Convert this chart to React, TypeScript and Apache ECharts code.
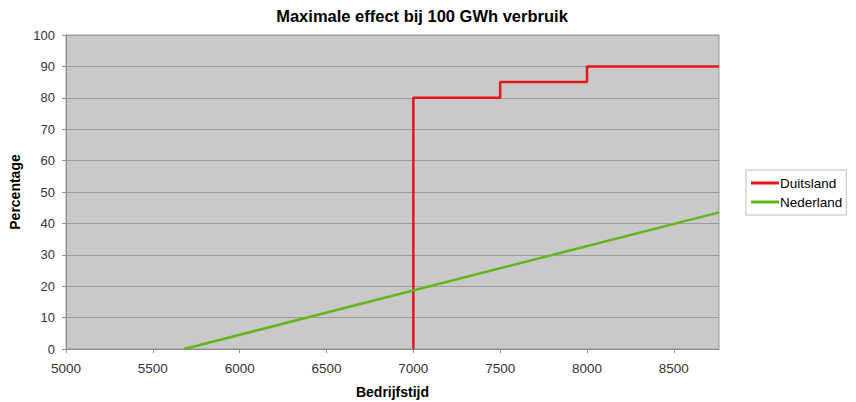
import React, { useEffect, useRef } from "react";
import * as echarts from "echarts";

const titleText = "Maximale effect bij 100 GWh verbruik";
const xAxisName = "Bedrijfstijd";
const yAxisName = "Percentage";
const seriesNames = ["Duitsland", "Nederland"];
const duitslandX = [7000, 7000, 7500, 7500, 8000, 8000, 8760];
const duitslandY = [0, 80, 80, 85, 85, 90, 90];
const nederlandX = [5680, 8760];
const nederlandY = [0, 43.5];

const FONT = "'Liberation Sans', Arial, sans-serif";

export default function App() {
  const ref = useRef<HTMLDivElement>(null);
  useEffect(() => {
    document.body.style.margin = "0";
    if (!ref.current) return;
    const chart = echarts.init(ref.current, undefined, { renderer: "svg" });
    chart.setOption({
      animation: false,
      backgroundColor: "#ffffff",
      textStyle: { fontFamily: FONT },
      title: {
        text: titleText,
        left: 417,
        textAlign: "center",
        top: 2,
        textStyle: { fontFamily: FONT, fontSize: 16.5, fontWeight: "bold", color: "#000" },
      },
      legend: {
        orient: "vertical",
        left: 746,
        top: 170,
        backgroundColor: "#ffffff",
        borderColor: "#bdbdbd",
        borderWidth: 1,
        padding: [6, 4, 6, 5],
        itemGap: 5,
        itemWidth: 28,
        itemHeight: 3,
        icon: "rect",
        textStyle: { fontFamily: FONT, fontSize: 13.5, color: "#000", padding: [0, 0, 0, -4] },
        data: seriesNames,
      },
      grid: {
        left: 66, right: 137, top: 35, bottom: 53,
        outerBoundsMode: "none",
        containLabel: false,
        show: true, backgroundColor: "#c9c9c9", borderColor: "#9a9a9a", borderWidth: 1,
      },
      xAxis: {
        type: "value",
        min: 5000,
        max: 8760,
        interval: 500,
        name: xAxisName,
        nameLocation: "middle",
        nameGap: 36,
        nameTextStyle: { fontFamily: FONT, fontSize: 14, fontWeight: "bold", color: "#000" },
        axisLine: { show: true, lineStyle: { color: "#8c8c8c" } },
        axisTick: { show: true, length: 4, lineStyle: { color: "#8c8c8c" } },
        axisLabel: { fontFamily: FONT, fontSize: 13.5, color: "#333", margin: 12, showMaxLabel: false, formatter: (v: number) => String(v) },
        splitLine: { show: false },
      },
      yAxis: {
        type: "value",
        min: 0,
        max: 100,
        interval: 10,
        name: yAxisName,
        nameLocation: "middle",
        nameGap: 34,
        nameTextStyle: { fontFamily: FONT, fontSize: 14, fontWeight: "bold", color: "#000" },
        axisLine: { show: true, lineStyle: { color: "#8c8c8c" } },
        axisTick: { show: true, length: 4, lineStyle: { color: "#8c8c8c" } },
        axisLabel: { fontFamily: FONT, fontSize: 13, color: "#333", margin: 11, formatter: (v: number) => String(v) },
        splitLine: { show: true, lineStyle: { color: "#9c9c9c", width: 1 } },
      },
      series: [
        {
          name: seriesNames[0],
          type: "line",
          symbol: "none",
          color: "#e8161b",
          lineStyle: { width: 2.5, color: "#e8161b" },
          data: duitslandX.map((x, i) => [x, duitslandY[i]]),
        },
        {
          name: seriesNames[1],
          type: "line",
          symbol: "none",
          color: "#63b51c",
          lineStyle: { width: 2.5, color: "#63b51c" },
          data: nederlandX.map((x, i) => [x, nederlandY[i]]),
        },
      ],
    });
    return () => chart.dispose();
  }, []);
  return <div ref={ref} style={{ width: 856, height: 402 }} />;
}
